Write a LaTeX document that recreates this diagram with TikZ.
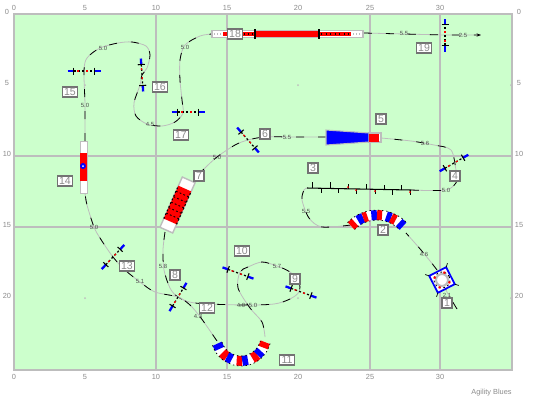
\documentclass[tikz,border=0pt]{standalone}
\usepackage{fontspec}
\setmainfont{Liberation Sans}
\usetikzlibrary{calc,arrows.meta}
\definecolor{fieldgreen}{HTML}{CCFFCC}
\definecolor{gridgrey}{HTML}{BDBDBD}
\definecolor{labelgrey}{HTML}{8C8C8C}

% jump: name, angle
\newcommand{\jumpbar}[2]{
	\begin{scope}[shift={(#1)},rotate=#2]
		\draw[line width=1.3pt,blue] (-16.5,0) -- (-10.5,0);
		\draw[line width=1.3pt,blue] (10.5,0) -- (16.5,0);
		\draw[line width=0.6pt] (-10.5,-3.5) -- (-10.5,3.5);
		\draw[line width=0.6pt] (10.5,-3.5) -- (10.5,3.5);
		\draw[line width=0.7pt,dash pattern=on 1.2pt off 1.2pt] (-10.5,0) -- (10.5,0);
		\draw[line width=0.7pt,red,dash pattern=on 1.2pt off 4pt] (-7,0) -- (10.5,0);
	\end{scope}
}

\begin{document}
\begin{tikzpicture}[x=0.02cm,y=-0.02cm]
		\tikzstyle{ticklabel}=[text=labelgrey,font=\fontsize{4.2}{5}\selectfont,inner sep=0pt]
		\tikzstyle{dist}=[text=black!70,font=\fontsize{3.4}{4}\selectfont,inner sep=0pt]
		\tikzstyle{numbox}=[draw=black!55,fill=white,text=labelgrey,line width=0.6pt,font=\fontsize{6}{7}\selectfont,inner sep=0pt,minimum height=0.2cm,minimum width=0.2cm]
		\tikzstyle{widebox}=[numbox,minimum width=0.3cm]
		\tikzstyle{gridline}=[gridgrey,line width=0.6pt]
		\tikzstyle{route}=[draw=gridgrey,line width=0.45pt,postaction={draw=black,dash pattern=on 4.5pt off 8pt}]
		\tikzstyle{tunred}=[red,line width=0.2cm]
		\tikzstyle{tunblue}=[blue,line width=0.2cm]
		\tikzstyle{tunwhite}=[white,line width=0.2cm]
		\tikzstyle{tunedge}=[line width=0.4pt,dash pattern=on 0.8pt off 1.6pt]

		\useasboundingbox (0,0) rectangle (548,400);

		% Field
		\fill[white] (0,0) rectangle (548,400);
		\draw[fill=fieldgreen,draw=gridgrey,line width=0.6pt] (14,14) rectangle (512,370);
		\draw[gridline] (156,14) -- (156,370);
		\draw[gridline] (227,14) -- (227,370);
		\draw[gridline] (370,14) -- (370,370);
		\draw[gridline] (440,14) -- (440,370);
		\draw[gridline] (14,156) -- (512,156);
		\draw[gridline] (14,227) -- (512,227);
		\fill[gridgrey] (85,85) circle (1);
		\fill[gridgrey] (298,85) circle (1);
		\fill[gridgrey] (85,298) circle (1);
		\fill[gridgrey] (298,298) circle (1);
		\fill[gridgrey] (511,85) circle (1);
		\fill[gridgrey] (511,298) circle (1);

		% Top scale
		\node[ticklabel](top0) at (14,8){0};
		\node[ticklabel](top5) at (85,8){5};
		\node[ticklabel](top10) at (156,8){10};
		\node[ticklabel](top15) at (227,8){15};
		\node[ticklabel](top20) at (298,8){20};
		\node[ticklabel](top25) at (370,8){25};
		\node[ticklabel](top30) at (440,8){30};

		% Bottom scale
		\node[ticklabel](bot0) at (14,377){0};
		\node[ticklabel](bot5) at (85,377){5};
		\node[ticklabel](bot10) at (156,377){10};
		\node[ticklabel](bot15) at (227,377){15};
		\node[ticklabel](bot20) at (298,377){20};
		\node[ticklabel](bot25) at (370,377){25};
		\node[ticklabel](bot30) at (440,377){30};

		% Left scale
		\node[ticklabel](lef0) at (7,12){0};
		\node[ticklabel](lef5) at (7,83){5};
		\node[ticklabel](lef10) at (7,154){10};
		\node[ticklabel](lef15) at (7,225){15};
		\node[ticklabel](lef20) at (7,296){20};

		% Right scale
		\node[ticklabel](rig0) at (519,12){0};
		\node[ticklabel](rig5) at (519,83){5};
		\node[ticklabel](rig10) at (519,154){10};
		\node[ticklabel](rig15) at (519,225){15};
		\node[ticklabel](rig20) at (519,296){20};

		\node[ticklabel,anchor=east](credit) at (512,393){Agility Blues};

		% Obstacle positions
		\coordinate (tyre) at (442,280);
		\coordinate (j4) at (454,163);
		\coordinate (j6) at (248,140);
		\coordinate (j8) at (178,297);
		\coordinate (j9) at (301,292);
		\coordinate (j10) at (238,273);
		\coordinate (j13) at (113,257);
		\coordinate (j15) at (84,71);
		\coordinate (j16) at (142,75);
		\coordinate (j17) at (188,112);
		\coordinate (j19) at (445,35);
		\coordinate (chute) at (177.5,205);

		% Course line
		\draw[route] plot[smooth,tension=0.5] coordinates {(457,309) (447,292) (tyre) (437,270) (421,250) (406,233)};
		\draw[route] plot[smooth,tension=0.5] coordinates {(351,225) (322,227) (309,218) (302,200) (304,190) (307,188)};
		\draw[route] plot[smooth,tension=0.5] coordinates {(411,190) (446,190) (457,181) (456,170) (451,150) (434,145) (411,141) (381,138)};
		\draw[route] plot[smooth,tension=0.5] coordinates {(326,137) (298,137) (265,137) (j6) (235,145) (217,157) (203,170) (197,178)};
		\draw[route] plot[smooth,tension=0.5] coordinates {(165,232) (163,250) (164,270) (170,288) (j8) (195,303) (243,305) (274,304) (290,299) (299,292) (299,282) (290,272) (277,266) (262,262) (248,267) (240,272) (238,288) (250,308) (262,322) (265,337)};
		\draw[route] plot[smooth,tension=0.5] coordinates {(217,341) (201,318) (190,305) (j8) (155,292) (140,282) (125,270) (j13) (100,238) (94,227) (87,205) (85,193)};
		\draw[route] plot[smooth,tension=0.5] coordinates {(85,141) (85,105) (j15) (87,58) (100,48) (118,43) (132,42) (146,46) (150,55) (147,68) (j16) (140,85) (134,103) (136,116) (147,124) (162,126) (175,122) (183,113) (182,100) (180,80) (180,60) (185,45) (200,36) (212,34)};
		\draw[route,-{Stealth[length=2.5pt,width=1.8pt]}] (364,33) -- (j19) -- (481,35);

		% Tyre
		\begin{scope}[shift={(tyre)},rotate=27]
			\draw[blue,fill=white,line width=1pt] (-9.5,-9.5) rectangle (9.5,9.5);
			\draw[gridgrey,line width=1.2pt] (0,0) circle (6);
			\draw[line width=0.5pt,dash pattern=on 1pt off 1.5pt] (0,0) circle (8);
			\fill[red] (-5.5,-5.5) circle (1.5);
			\fill[red] (5.5,-5.5) circle (1.5);
			\fill[red] (-5.5,5.5) circle (1.5);
			\fill[red] (5.5,5.5) circle (1.5);
			\draw[line width=0.4pt] (-9.5,-9.5) -- (-12.5,-12.5);
			\draw[line width=0.4pt] (9.5,-9.5) -- (12.5,-12.5);
			\draw[line width=0.4pt] (-9.5,9.5) -- (-12.5,12.5);
			\draw[line width=0.4pt] (9.5,9.5) -- (12.5,12.5);
		\end{scope}

		% Curved tunnel 2
		\begin{scope}[shift={(377,251)}]
			\draw[tunwhite] (224:36) arc[start angle=224,delta angle=92.4,radius=36];
			\draw[tunred] (224:36) arc[start angle=224,delta angle=8.5,radius=36];
			\draw[tunblue] (238:36) arc[start angle=238,delta angle=9.5,radius=36];
			\draw[tunred] (247.5:36) arc[start angle=247.5,delta angle=7,radius=36];
			\draw[tunblue] (261:36) arc[start angle=261,delta angle=9,radius=36];
			\draw[tunred] (270:36) arc[start angle=270,delta angle=8,radius=36];
			\draw[tunblue] (285:36) arc[start angle=285,delta angle=8,radius=36];
			\draw[tunred] (293:36) arc[start angle=293,delta angle=8,radius=36];
			\draw[tunblue] (308:36) arc[start angle=308,delta angle=8.4,radius=36];
			\draw[tunedge] (224:31) arc[start angle=224,delta angle=92.4,radius=31];
			\draw[tunedge] (224:41) arc[start angle=224,delta angle=92.4,radius=41];
		\end{scope}

		% Curved tunnel 11
		\begin{scope}[shift={(241,336)}]
			\draw[tunwhite] (162:25) arc[start angle=162,delta angle=-147.6,radius=25];
			\draw[tunblue] (162:25) arc[start angle=162,delta angle=-13,radius=25];
			\draw[tunred] (138:25) arc[start angle=138,delta angle=-14,radius=25];
			\draw[tunblue] (124:25) arc[start angle=124,delta angle=-12.5,radius=25];
			\draw[tunred] (100:25) arc[start angle=100,delta angle=-13,radius=25];
			\draw[tunblue] (87:25) arc[start angle=87,delta angle=-13,radius=25];
			\draw[tunred] (63:25) arc[start angle=63,delta angle=-14,radius=25];
			\draw[tunblue] (49:25) arc[start angle=49,delta angle=-12,radius=25];
			\draw[tunred] (27.5:25) arc[start angle=27.5,delta angle=-13.1,radius=25];
			\draw[tunedge] (162:20) arc[start angle=162,delta angle=-147.6,radius=20];
			\draw[tunedge] (162:30) arc[start angle=162,delta angle=-147.6,radius=30];
		\end{scope}

		% Weave 3
		\draw[line width=0.6pt] (307,188) -- (411,190);
		\draw[line width=0.4pt] (312,188) -- (312,182) (321,188) -- (321,193) (330,188) -- (330,182) (338,189) -- (338,193) (348,189) -- (348,184) (356,189) -- (356,194) (366,189) -- (366,184) (375,189) -- (375,194) (384,189) -- (384,185) (392,190) -- (392,195) (401,190) -- (401,185) (410,190) -- (410,195);
		\fill[red] (348,187) circle (1);
		\fill[red] (356,190) circle (1);
		\fill[red] (375,191) circle (1);
		\fill[red] (410,192) circle (1);

		% Pipe tunnel 5
		\draw[gridgrey,fill=white,line width=0.6pt] (369,133) rectangle (381,142);
		\draw[gridgrey,fill=blue,line width=0.6pt] (326,130) -- (369,133) -- (369,142) -- (326,145) -- cycle;
		\fill[red] (369,133.5) rectangle (379,141.5);

		% Chute 7
		\begin{scope}[shift={(chute)},rotate=66]
			\draw[gridgrey,fill=white,line width=0.8pt] (-27.5,-7) rectangle (27.5,7);
			\fill[red] (-18,-7) rectangle (18,7);
			\draw[dash pattern=on 1pt off 1.3pt,line width=0.6pt] (-18,-7) -- (18,-7);
			\draw[dash pattern=on 1pt off 1.3pt,line width=0.6pt] (-18,7) -- (18,7);
			\draw[dash pattern=on 1pt off 1.3pt,line width=0.5pt] (-12,-7) -- (-12,7);
			\draw[dash pattern=on 1pt off 1.3pt,line width=0.5pt] (-6,-7) -- (-6,7);
			\draw[dash pattern=on 1pt off 1.3pt,line width=0.5pt] (0,-7) -- (0,7);
			\draw[dash pattern=on 1pt off 1.3pt,line width=0.5pt] (6,-7) -- (6,7);
			\draw[dash pattern=on 1pt off 1.3pt,line width=0.5pt] (12,-7) -- (12,7);
		\end{scope}

		% Pipe tunnel 14
		\draw[gridgrey,fill=white,line width=0.5pt] (80,141) rectangle (87,193);
		\fill[red] (80,153) rectangle (87,181);
		\fill[blue] (83,166) circle (3);
		\fill[white] (83,166) circle (1);

		% Pipe tunnel 18
		\draw[gridgrey,fill=white,line width=0.8pt] (212,30.5) rectangle (363,37.5);
		\fill[red] (223,32) rectangle (351,36);
		\fill[red] (255,31) rectangle (319,37);
		\draw[line width=0.7pt] (255,29) -- (255,39);
		\draw[line width=0.7pt] (319,29) -- (319,39);
		\draw[line width=1.4pt,dash pattern=on 0.6pt off 1.8pt] (244,34) -- (255,34);
		\draw[line width=1.4pt,dash pattern=on 0.6pt off 2pt] (321,34) -- (351,34);
		\draw[gridgrey,line width=1.4pt,dash pattern=on 0.6pt off 1.2pt] (214,34) -- (222,34);
		\draw[gridgrey,line width=1.4pt,dash pattern=on 0.6pt off 1.2pt] (353,34) -- (362,34);

		% Jumps
		\jumpbar{j4}{30}
		\jumpbar{j6}{-49}
		\jumpbar{j8}{59}
		\jumpbar{j9}{-20}
		\jumpbar{j10}{-20}
		\jumpbar{j13}{47}
		\jumpbar{j15}{0}
		\jumpbar{j16}{-86}
		\jumpbar{j17}{0}
		\jumpbar{j19}{90}

		% Distances
		\node[dist](d1) at (447,295){2.1};
		\node[dist](d2) at (424,254){4.6};
		\node[dist](d3) at (306,211){5.5};
		\node[dist](d4) at (446,190){5.0};
		\node[dist](d5) at (425,143){5.6};
		\node[dist](d6) at (287,137){5.5};
		\node[dist](d7) at (217,157){5.0};
		\node[dist](d8) at (163,266){5.8};
		\node[dist](d9) at (241,305){4.0};
		\node[dist](d10) at (253,305){5.0};
		\node[dist](d11) at (277,266){5.7};
		\node[dist](d12) at (198,316){4.3};
		\node[dist](d13) at (140,281){5.1};
		\node[dist](d14) at (94,227){5.0};
		\node[dist](d15) at (85,105){5.0};
		\node[dist](d16) at (103,48){5.0};
		\node[dist](d17) at (150,124){4.5};
		\node[dist](d18) at (185,47){5.0};
		\node[dist](d19) at (404,33){5.5};
		\node[dist](d20) at (463,35){2.5};

		% Obstacle numbers
		\node[numbox](n1) at (447,303){1};
		\node[numbox](n2) at (383,230){2};
		\node[numbox](n3) at (313,168){3};
		\node[numbox](n4) at (455,176){4};
		\node[numbox](n5) at (381,119){5};
		\node[numbox](n6) at (265,134){6};
		\node[numbox](n7) at (199,176){7};
		\node[numbox](n8) at (175,275){8};
		\node[numbox](n9) at (295,279){9};
		\node[widebox](n10) at (242,251){10};
		\node[widebox](n11) at (287,360){11};
		\node[widebox](n12) at (207,308){12};
		\node[widebox](n13) at (127,266){13};
		\node[widebox](n14) at (65,181){14};
		\node[widebox](n15) at (70,92){15};
		\node[widebox](n16) at (160,87){16};
		\node[widebox](n17) at (181,135){17};
		\node[widebox](n18) at (235,34){18};
		\node[widebox](n19) at (424,48){19};
\end{tikzpicture}
\end{document}
